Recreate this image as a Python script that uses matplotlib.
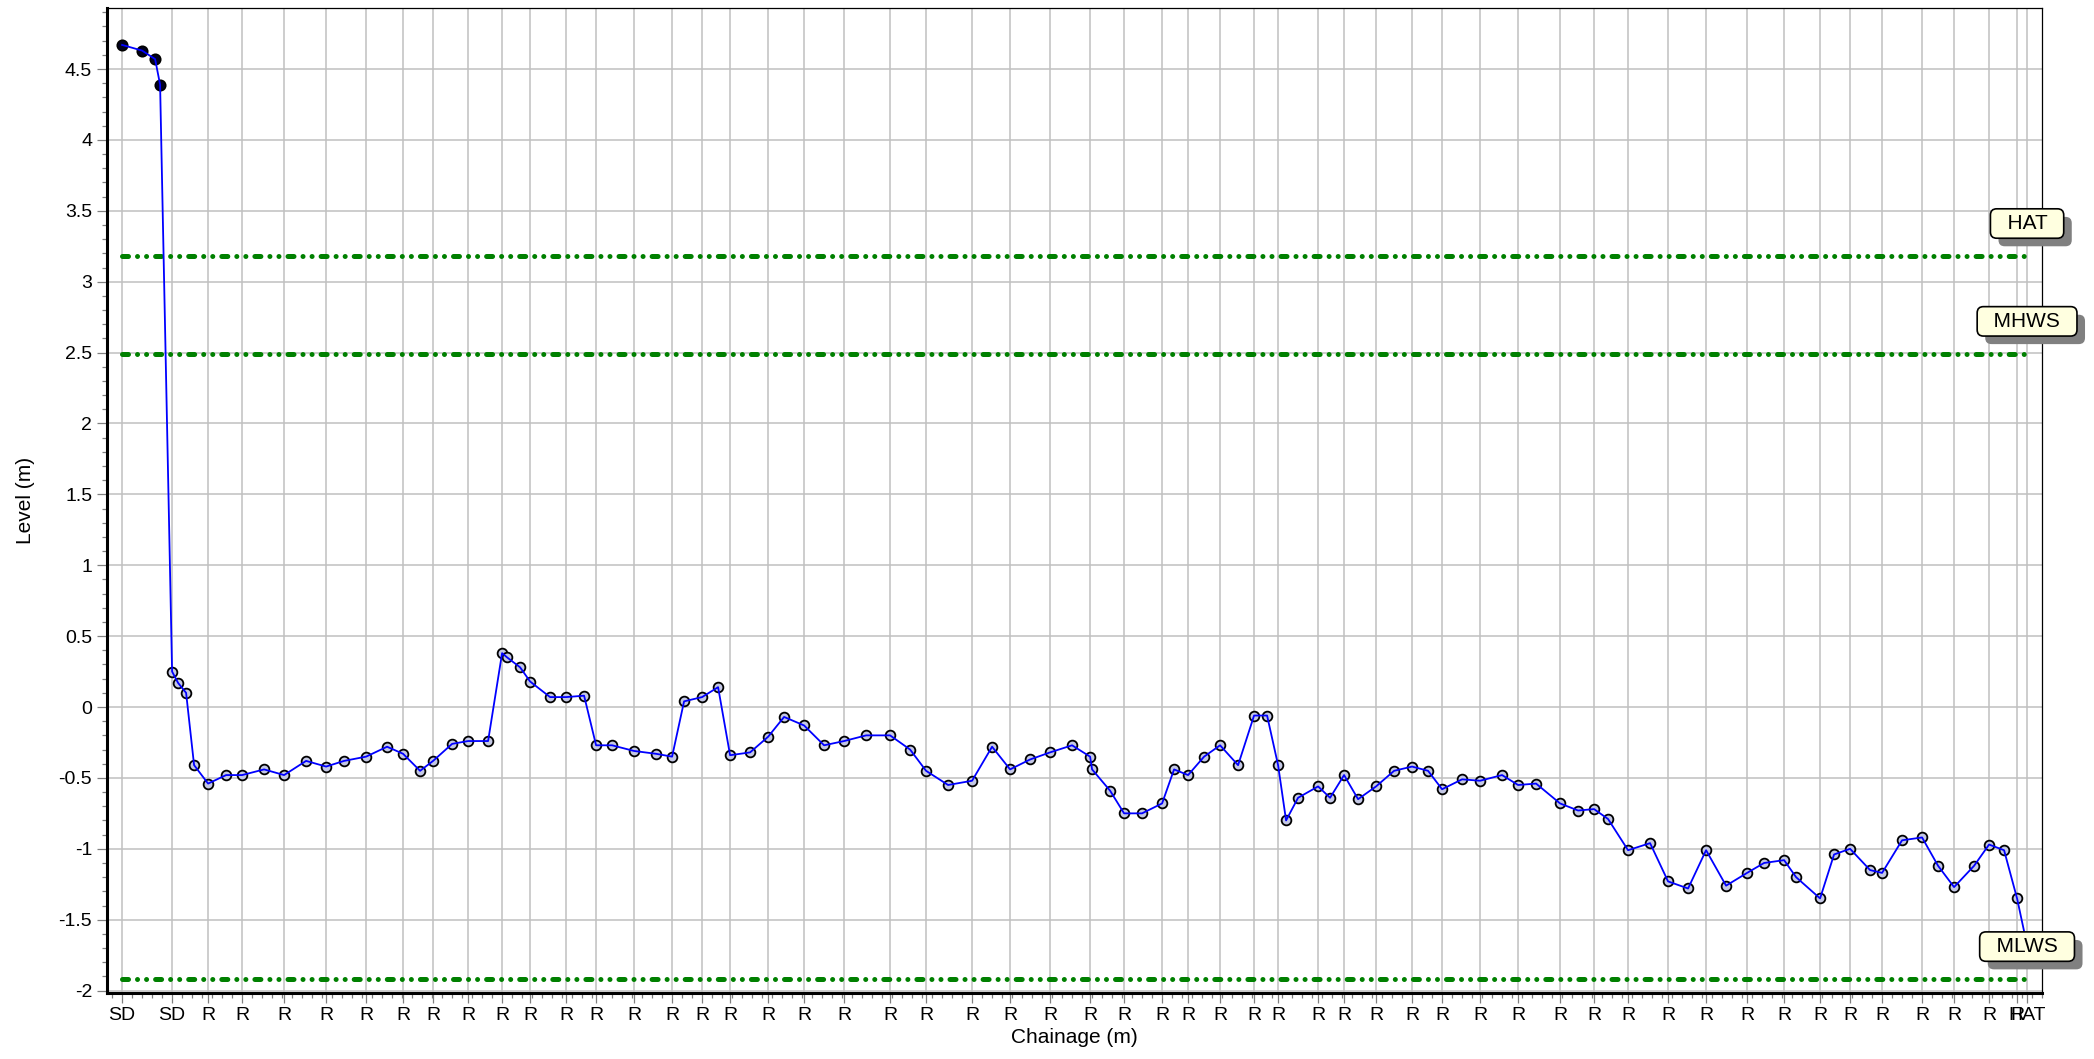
import matplotlib
matplotlib.use('Agg')
import matplotlib.pyplot as plt
import matplotlib.patheffects as pe
from matplotlib.ticker import MultipleLocator, FuncFormatter

# survey profile: chainage (m), level (m) and feature code per point
chainage = [0.0, 2.0, 3.3, 3.8, 5.0, 5.6, 6.4, 7.2, 8.6, 10.4,
            12.0, 14.2, 16.2, 18.4, 20.4, 22.2, 24.4, 26.5, 28.1, 29.8,
            31.1, 33.0, 34.6, 36.6, 38.0, 38.5, 39.8, 40.8, 42.8, 44.4,
            46.2, 47.4, 49.0, 51.2, 53.4, 55.0, 56.2, 58.0, 59.6, 60.8,
            62.8, 64.6, 66.2, 68.2, 70.2, 72.2, 74.4, 76.8, 78.8, 80.4,
            82.6, 85.0, 87.0, 88.8, 90.8, 92.8, 95.0, 96.8, 97.0, 98.8,
            100.2, 102.0, 104.0, 105.2, 106.6, 108.2, 109.8, 111.6, 113.2, 114.5,
            115.6, 116.4, 117.6, 119.6, 120.8, 122.2, 123.6, 125.4, 127.2, 129.0,
            130.6, 132.0, 134.0, 135.8, 138.0, 139.6, 141.4, 143.8, 145.6, 147.2,
            148.6, 150.6, 152.8, 154.6, 156.6, 158.4, 160.4, 162.5, 164.2, 166.2,
            167.4, 169.8, 171.2, 172.8, 174.8, 176.0, 178.0, 180.0, 181.6, 183.2,
            185.2, 186.7, 188.2, 189.5, 190.5]
level = [4.67, 4.63, 4.57, 4.39, 0.25, 0.17, 0.10, -0.41, -0.54, -0.48,
         -0.48, -0.44, -0.48, -0.38, -0.42, -0.38, -0.35, -0.28, -0.33, -0.45,
         -0.38, -0.26, -0.24, -0.24, 0.38, 0.35, 0.28, 0.18, 0.07, 0.07,
         0.08, -0.27, -0.27, -0.31, -0.33, -0.35, 0.04, 0.07, 0.14, -0.34,
         -0.32, -0.21, -0.07, -0.13, -0.27, -0.24, -0.20, -0.20, -0.30, -0.45,
         -0.55, -0.52, -0.28, -0.44, -0.37, -0.32, -0.27, -0.35, -0.44, -0.59,
         -0.75, -0.75, -0.68, -0.44, -0.48, -0.35, -0.27, -0.41, -0.06, -0.06,
         -0.41, -0.80, -0.64, -0.56, -0.64, -0.48, -0.65, -0.56, -0.45, -0.42,
         -0.45, -0.58, -0.51, -0.52, -0.48, -0.55, -0.54, -0.68, -0.73, -0.72,
         -0.79, -1.01, -0.96, -1.23, -1.28, -1.01, -1.26, -1.17, -1.10, -1.08,
         -1.20, -1.35, -1.04, -1.00, -1.15, -1.17, -0.94, -0.92, -1.12, -1.27,
         -1.12, -0.97, -1.01, -1.35, -1.68]
codes = ['SD', '', '', '', 'SD', '', '', '', 'R', '',
         'R', '', 'R', '', 'R', '', 'R', '', 'R', '',
         'R', '', 'R', '', 'R', '', '', 'R', '', 'R',
         '', 'R', '', 'R', '', 'R', '', 'R', '', 'R',
         '', 'R', '', 'R', '', 'R', '', 'R', '', 'R',
         '', 'R', '', 'R', '', 'R', '', 'R', '', '',
         'R', '', 'R', '', 'R', '', 'R', '', 'R', '',
         'R', '', '', 'R', '', 'R', '', 'R', '', 'R',
         '', 'R', '', 'R', '', 'R', '', 'R', '', 'R',
         '', 'R', '', 'R', '', 'R', '', 'R', '', 'R',
         '', 'R', '', 'R', '', 'R', '', 'R', '', 'R',
         '', 'R', '', 'R', 'HAT']

tide_names = ['HAT', 'MHWS', 'MLWS']
tide_levels = [3.18, 2.49, -1.92]

n_top = 4  # points on the sea defence, drawn filled

plt.rcParams['font.family'] = ['Liberation Sans', 'DejaVu Sans']

fig = plt.figure(figsize=(20.94, 10.59), dpi=100)
ax = fig.add_axes([0.051, 0.0626, 0.9242, 0.9298])

# tide levels
for name, lv in zip(tide_names, tide_levels):
    ax.plot([chainage[0], chainage[-1]], [lv, lv], color='#008000', lw=3.6,
            ls=(0, (1.2, 1.8, 0.01, 1.8, 0.01, 1.8)), dash_capstyle='round',
            zorder=2)

# profile
ax.plot(chainage[:n_top], level[:n_top], 'o', ms=7.5, mfc='#000020',
        mec='black', mew=1.2, zorder=3)
ax.plot(chainage[n_top:], level[n_top:], 'o', ms=7, mfc='#c4c8e4',
        mec='black', mew=1.3, zorder=3)
ax.plot(chainage, level, color='#0000ff', lw=1.3, zorder=4)

# tide labels, boxed with a drop shadow
for name, lv in zip(tide_names, tide_levels):
    t = ax.annotate('  ' + name + '  ', xy=(chainage[-1], lv), xytext=(0, 23.5),
                    textcoords='offset points', ha='center', va='center',
                    fontsize=15, color='black', zorder=6,
                    bbox=dict(boxstyle='round,pad=0.25,rounding_size=0.3',
                              fc='#ffffe0', ec='black', lw=1.2))
    t.get_bbox_patch().set_path_effects([
        pe.SimplePatchShadow(offset=(5.8, -5.8), shadow_rgbFace='#808080', alpha=1.0),
        pe.Normal()])

major_x = [c for c, k in zip(chainage, codes) if k]
major_lab = [k for k in codes if k]
ax.set_xticks(major_x, major_lab)
ax.xaxis.set_minor_locator(MultipleLocator(1))
ax.yaxis.set_major_locator(MultipleLocator(0.5))
ax.yaxis.set_minor_locator(MultipleLocator(0.1))
ax.yaxis.set_major_formatter(FuncFormatter(lambda v, p: '%g' % (round(v, 2) + 0.0)))

ax.set_xlim(-1.53, 192.0)
ax.set_ylim(-2.015, 4.93)

ax.grid(True, which='major', color='#c0c0c0', lw=1.1)
ax.set_axisbelow(True)

ax.tick_params(which='major', length=7.5, width=0.9, color='#808080',
               labelsize=14, pad=3)
ax.tick_params(which='minor', length=3.6, width=0.9, color='#808080')

for s in ['left', 'bottom']:
    ax.spines[s].set_linewidth(2.2)
for s in ['top', 'right']:
    ax.spines[s].set_linewidth(0.9)

ax.set_xlabel('Chainage (m)', fontsize=15, labelpad=3)
ax.set_ylabel('Level (m)', fontsize=15, labelpad=17)

fig.savefig('out.png', dpi=100)
